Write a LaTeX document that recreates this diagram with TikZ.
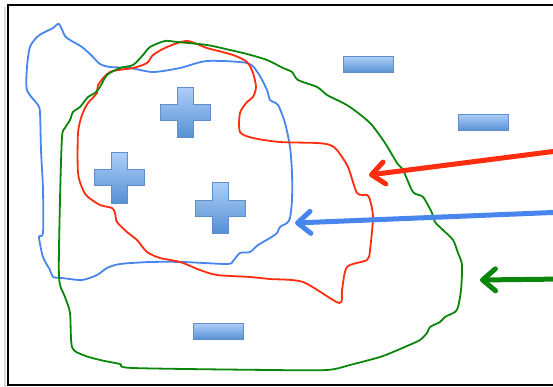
\documentclass[tikz,border=0pt]{standalone}
\usetikzlibrary{arrows.meta}

\definecolor{bluecurve}{RGB}{72,134,238}
\definecolor{redcurve}{RGB}{255,45,15}
\definecolor{greencurve}{RGB}{10,135,10}
\definecolor{shapetop}{RGB}{172,205,248}
\definecolor{shapebot}{RGB}{86,144,212}
\definecolor{shapeedge}{RGB}{96,142,202}

\tikzset{
  region/.style={line width=1.8pt, line join=round, smooth cycle, tension=0.45},
  pointer/.style={line width=5pt, line cap=round,
    -{Straight Barb[length=13pt, width=22pt, line cap=round, line join=round]}},
  chargefill/.style={top color=shapetop, bottom color=shapebot, draw=shapeedge, line width=1pt},
  minusbox/.style={chargefill, rectangle, minimum width=50pt, minimum height=16pt, inner sep=0pt},
  plusmark/.pic={
    \path[chargefill] (-8,-25) -- (8,-25) -- (8,-8) -- (25,-8) -- (25,8) -- (8,8)
      -- (8,25) -- (-8,25) -- (-8,8) -- (-25,8) -- (-25,-8) -- (-8,-8) -- cycle;
  }
}

\begin{document}
\begin{tikzpicture}[x=1pt, y=-1pt]
  \useasboundingbox (0,0) rectangle (553,387);
  \clip (0,0) rectangle (553,387);

  % frame (open on the right side)
  \draw[black!15, line width=2pt] (5,7) -- (5,387);
  \draw[black, line width=1.6pt] (570,5) -- (8,5) -- (8,385) -- (570,385);

  % hand-drawn blue region
  \draw[bluecurve, region] plot coordinates {
    (59,24) (65,36) (70,40) (82,47) (92,56) (100,64) (110,67) (130,68) (153,72)
    (180,68) (207,61) (247,63) (258,73) (267,90) (270,100) (278,105) (285,123)
    (290,147) (292,173) (292,200) (290,218) (287,223) (280,227) (277,233)
    (270,238) (258,245) (250,252) (240,253) (233,261) (227,264) (183,262)
    (150,262) (120,264) (107,268) (97,275) (82,280) (62,278) (53,277) (50,270)
    (43,257) (39,237) (43,233) (43,190) (41,150) (40,113) (38,105) (27,90)
    (27,67) (30,47) (37,37) (43,33) (53,28)};

  % hand-drawn red region
  \draw[redcurve, region] plot coordinates {
    (187,41) (207,48) (233,55) (247,62) (253,73) (256,87) (253,97) (247,102)
    (240,113) (240,132) (253,138) (280,142) (317,143) (330,145) (337,150)
    (348,167) (357,193) (367,195) (370,200) (373,217) (370,250) (367,260)
    (347,267) (342,290) (339,303) (303,282) (270,279) (250,277) (217,275)
    (200,270) (180,262) (160,258) (147,252) (137,240) (127,232) (117,222)
    (115,213) (112,208) (100,205) (88,197) (83,190) (78,173) (78,133) (82,115)
    (88,103) (97,93) (98,85) (110,72) (133,68) (147,63) (153,55) (167,47)};

  % hand-drawn green region
  \draw[greencurve, region] plot coordinates {
    (165,41) (177,42) (207,45) (230,50) (247,54) (267,60) (283,68) (292,72)
    (298,80) (317,87) (327,95) (337,100) (350,107) (370,123) (385,143)
    (397,163) (403,170) (413,192) (423,197) (432,213) (435,222) (443,230)
    (453,240) (458,253) (462,265) (461,290) (458,307) (455,312) (445,317)
    (440,322) (430,327) (427,333) (420,340) (407,346) (393,352) (380,357)
    (350,365) (327,370) (270,370) (133,368) (120,364) (100,360) (83,355)
    (72,347) (70,313) (65,297) (59,277) (60,200) (62,137) (65,128) (70,120)
    (73,112) (80,107) (88,97) (95,93) (100,87) (107,75) (120,68) (133,65)
    (143,55) (150,47)};

  % charges
  \pic (p1) at (185,113) {plusmark};
  \pic (p2) at (119,178) {plusmark};
  \pic (p3) at (220,208) {plusmark};
  \node[minusbox] (m1) at (368,65) {};
  \node[minusbox] (m2) at (483.5,122.5) {};
  \node[minusbox] (m3) at (218,331.5) {};

  % pointers into the regions
  \coordinate (redfrom) at (565,150);
  \coordinate (redto) at (369,175);
  \coordinate (bluefrom) at (565,212);
  \coordinate (blueto) at (295,223);
  \coordinate (greenfrom) at (565,279);
  \coordinate (greento) at (480,280);
  \draw[pointer, redcurve] (redfrom) -- (redto);
  \draw[pointer, bluecurve] (bluefrom) -- (blueto);
  \draw[pointer, greencurve] (greenfrom) -- (greento);
\end{tikzpicture}
\end{document}
